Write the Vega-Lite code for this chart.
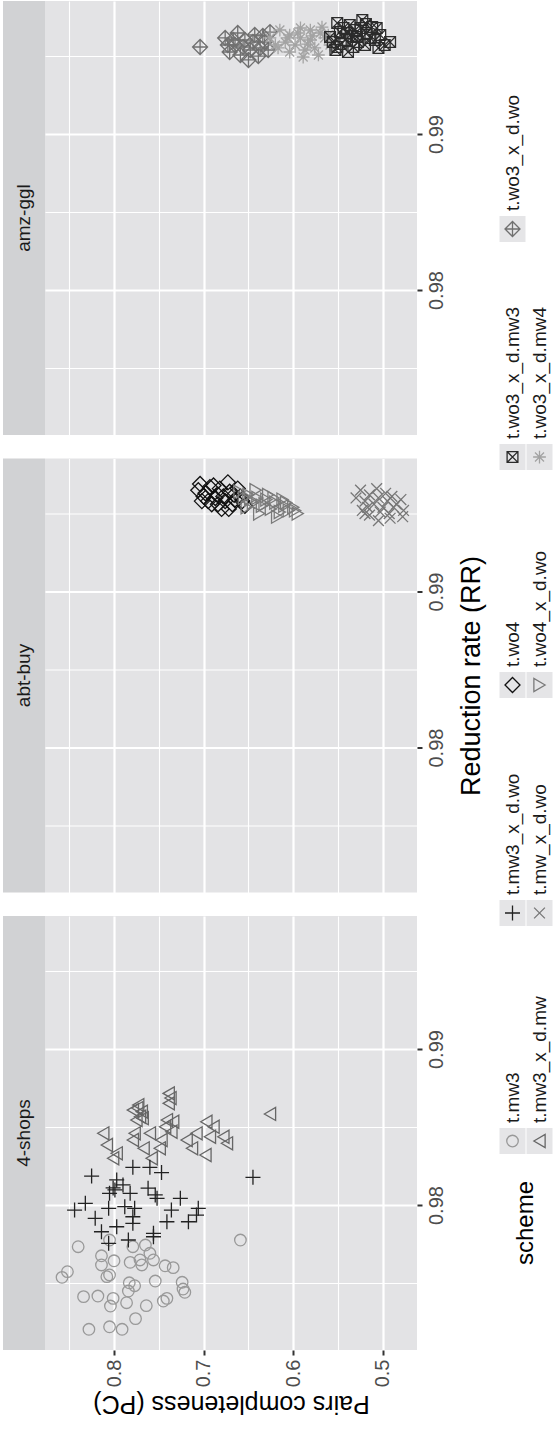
{
  "$schema": "https://vega.github.io/schema/vega-lite/v6.json",
  "background": "white",
  "padding": {"left": 3, "top": 1, "right": 0, "bottom": 20},
  "config": {
    "font": "Liberation Sans",
    "view": {"fill": "#e3e3e5", "stroke": null}
  },
  "datasets": {
    "panels": [{"panel": "amz-ggl"}, {"panel": "abt-buy"}, {"panel": "4-shops"}],
    "legend": [
      {"scheme": "t.mw3", "lrow": 1, "slot": 1},
      {"scheme": "t.mw3_x_d.mw", "lrow": 2, "slot": 1},
      {"scheme": "t.mw3_x_d.wo", "lrow": 1, "slot": 2},
      {"scheme": "t.mw_x_d.wo", "lrow": 2, "slot": 2},
      {"scheme": "t.wo4", "lrow": 1, "slot": 3},
      {"scheme": "t.wo4_x_d.wo", "lrow": 2, "slot": 3},
      {"scheme": "t.wo3_x_d.mw3", "lrow": 1, "slot": 4},
      {"scheme": "t.wo3_x_d.mw4", "lrow": 2, "slot": 4},
      {"scheme": "t.wo3_x_d.wo", "lrow": 1, "slot": 5}
    ],
    "points": [
      {"panel":"4-shops","scheme":"t.mw3","pc":0.659,"rr":0.97776},
      {"panel":"4-shops","scheme":"t.mw3","pc":0.840,"rr":0.97733},
      {"panel":"4-shops","scheme":"t.mw3","pc":0.805,"rr":0.97776},
      {"panel":"4-shops","scheme":"t.mw3","pc":0.814,"rr":0.97675},
      {"panel":"4-shops","scheme":"t.mw3","pc":0.779,"rr":0.97733},
      {"panel":"4-shops","scheme":"t.mw3","pc":0.765,"rr":0.97744},
      {"panel":"4-shops","scheme":"t.mw3","pc":0.760,"rr":0.97691},
      {"panel":"4-shops","scheme":"t.mw3","pc":0.814,"rr":0.97616},
      {"panel":"4-shops","scheme":"t.mw3","pc":0.800,"rr":0.97643},
      {"panel":"4-shops","scheme":"t.mw3","pc":0.782,"rr":0.97633},
      {"panel":"4-shops","scheme":"t.mw3","pc":0.771,"rr":0.97648},
      {"panel":"4-shops","scheme":"t.mw3","pc":0.769,"rr":0.97616},
      {"panel":"4-shops","scheme":"t.mw3","pc":0.756,"rr":0.97648},
      {"panel":"4-shops","scheme":"t.mw3","pc":0.743,"rr":0.97611},
      {"panel":"4-shops","scheme":"t.mw3","pc":0.734,"rr":0.97599},
      {"panel":"4-shops","scheme":"t.mw3","pc":0.852,"rr":0.97573},
      {"panel":"4-shops","scheme":"t.mw3","pc":0.858,"rr":0.97537},
      {"panel":"4-shops","scheme":"t.mw3","pc":0.808,"rr":0.97541},
      {"panel":"4-shops","scheme":"t.mw3","pc":0.805,"rr":0.97552},
      {"panel":"4-shops","scheme":"t.mw3","pc":0.754,"rr":0.97513},
      {"panel":"4-shops","scheme":"t.mw3","pc":0.783,"rr":0.97502},
      {"panel":"4-shops","scheme":"t.mw3","pc":0.777,"rr":0.97483},
      {"panel":"4-shops","scheme":"t.mw3","pc":0.724,"rr":0.97505},
      {"panel":"4-shops","scheme":"t.mw3","pc":0.723,"rr":0.97462},
      {"panel":"4-shops","scheme":"t.mw3","pc":0.721,"rr":0.97441},
      {"panel":"4-shops","scheme":"t.mw3","pc":0.784,"rr":0.97449},
      {"panel":"4-shops","scheme":"t.mw3","pc":0.834,"rr":0.97413},
      {"panel":"4-shops","scheme":"t.mw3","pc":0.818,"rr":0.97417},
      {"panel":"4-shops","scheme":"t.mw3","pc":0.801,"rr":0.97402},
      {"panel":"4-shops","scheme":"t.mw3","pc":0.804,"rr":0.97353},
      {"panel":"4-shops","scheme":"t.mw3","pc":0.786,"rr":0.97374},
      {"panel":"4-shops","scheme":"t.mw3","pc":0.764,"rr":0.97355},
      {"panel":"4-shops","scheme":"t.mw3","pc":0.745,"rr":0.97385},
      {"panel":"4-shops","scheme":"t.mw3","pc":0.741,"rr":0.97402},
      {"panel":"4-shops","scheme":"t.mw3","pc":0.776,"rr":0.97272},
      {"panel":"4-shops","scheme":"t.mw3","pc":0.828,"rr":0.97204},
      {"panel":"4-shops","scheme":"t.mw3","pc":0.805,"rr":0.97220},
      {"panel":"4-shops","scheme":"t.mw3","pc":0.791,"rr":0.97204},
      {"panel":"4-shops","scheme":"t.mw3_x_d.mw","pc":0.739,"rr":0.98716},
      {"panel":"4-shops","scheme":"t.mw3_x_d.mw","pc":0.739,"rr":0.98652},
      {"panel":"4-shops","scheme":"t.mw3_x_d.mw","pc":0.773,"rr":0.98641},
      {"panel":"4-shops","scheme":"t.mw3_x_d.mw","pc":0.779,"rr":0.98609},
      {"panel":"4-shops","scheme":"t.mw3_x_d.mw","pc":0.769,"rr":0.98599},
      {"panel":"4-shops","scheme":"t.mw3_x_d.mw","pc":0.771,"rr":0.98566},
      {"panel":"4-shops","scheme":"t.mw3_x_d.mw","pc":0.775,"rr":0.98545},
      {"panel":"4-shops","scheme":"t.mw3_x_d.mw","pc":0.626,"rr":0.98584},
      {"panel":"4-shops","scheme":"t.mw3_x_d.mw","pc":0.741,"rr":0.98545},
      {"panel":"4-shops","scheme":"t.mw3_x_d.mw","pc":0.734,"rr":0.98534},
      {"panel":"4-shops","scheme":"t.mw3_x_d.mw","pc":0.697,"rr":0.98534},
      {"panel":"4-shops","scheme":"t.mw3_x_d.mw","pc":0.743,"rr":0.98502},
      {"panel":"4-shops","scheme":"t.mw3_x_d.mw","pc":0.689,"rr":0.98502},
      {"panel":"4-shops","scheme":"t.mw3_x_d.mw","pc":0.812,"rr":0.98460},
      {"panel":"4-shops","scheme":"t.mw3_x_d.mw","pc":0.777,"rr":0.98460},
      {"panel":"4-shops","scheme":"t.mw3_x_d.mw","pc":0.760,"rr":0.98460},
      {"panel":"4-shops","scheme":"t.mw3_x_d.mw","pc":0.736,"rr":0.98470},
      {"panel":"4-shops","scheme":"t.mw3_x_d.mw","pc":0.708,"rr":0.98460},
      {"panel":"4-shops","scheme":"t.mw3_x_d.mw","pc":0.693,"rr":0.98438},
      {"panel":"4-shops","scheme":"t.mw3_x_d.mw","pc":0.678,"rr":0.98438},
      {"panel":"4-shops","scheme":"t.mw3_x_d.mw","pc":0.779,"rr":0.98417},
      {"panel":"4-shops","scheme":"t.mw3_x_d.mw","pc":0.747,"rr":0.98417},
      {"panel":"4-shops","scheme":"t.mw3_x_d.mw","pc":0.719,"rr":0.98417},
      {"panel":"4-shops","scheme":"t.mw3_x_d.mw","pc":0.674,"rr":0.98396},
      {"panel":"4-shops","scheme":"t.mw3_x_d.mw","pc":0.808,"rr":0.98385},
      {"panel":"4-shops","scheme":"t.mw3_x_d.mw","pc":0.767,"rr":0.98364},
      {"panel":"4-shops","scheme":"t.mw3_x_d.mw","pc":0.749,"rr":0.98364},
      {"panel":"4-shops","scheme":"t.mw3_x_d.mw","pc":0.713,"rr":0.98364},
      {"panel":"4-shops","scheme":"t.mw3_x_d.mw","pc":0.797,"rr":0.98332},
      {"panel":"4-shops","scheme":"t.mw3_x_d.mw","pc":0.801,"rr":0.98300},
      {"panel":"4-shops","scheme":"t.mw3_x_d.mw","pc":0.758,"rr":0.98300},
      {"panel":"4-shops","scheme":"t.mw3_x_d.mw","pc":0.698,"rr":0.98321},
      {"panel":"4-shops","scheme":"t.mw3_x_d.mw","pc":0.774,"rr":0.98622},
      {"panel":"4-shops","scheme":"t.mw3_x_d.mw","pc":0.768,"rr":0.98557},
      {"panel":"4-shops","scheme":"t.mw3_x_d.mw","pc":0.737,"rr":0.98686},
      {"panel":"4-shops","scheme":"t.mw3_x_d.wo","pc":0.825,"rr":0.98186},
      {"panel":"4-shops","scheme":"t.mw3_x_d.wo","pc":0.779,"rr":0.98242},
      {"panel":"4-shops","scheme":"t.mw3_x_d.wo","pc":0.760,"rr":0.98242},
      {"panel":"4-shops","scheme":"t.mw3_x_d.wo","pc":0.747,"rr":0.98208},
      {"panel":"4-shops","scheme":"t.mw3_x_d.wo","pc":0.645,"rr":0.98178},
      {"panel":"4-shops","scheme":"t.mw3_x_d.wo","pc":0.797,"rr":0.98161},
      {"panel":"4-shops","scheme":"t.mw3_x_d.wo","pc":0.790,"rr":0.98129},
      {"panel":"4-shops","scheme":"t.mw3_x_d.wo","pc":0.799,"rr":0.98097},
      {"panel":"4-shops","scheme":"t.mw3_x_d.wo","pc":0.805,"rr":0.98075},
      {"panel":"4-shops","scheme":"t.mw3_x_d.wo","pc":0.782,"rr":0.98075},
      {"panel":"4-shops","scheme":"t.mw3_x_d.wo","pc":0.762,"rr":0.98108},
      {"panel":"4-shops","scheme":"t.mw3_x_d.wo","pc":0.754,"rr":0.98065},
      {"panel":"4-shops","scheme":"t.mw3_x_d.wo","pc":0.752,"rr":0.98043},
      {"panel":"4-shops","scheme":"t.mw3_x_d.wo","pc":0.726,"rr":0.98043},
      {"panel":"4-shops","scheme":"t.mw3_x_d.wo","pc":0.832,"rr":0.98011},
      {"panel":"4-shops","scheme":"t.mw3_x_d.wo","pc":0.844,"rr":0.97968},
      {"panel":"4-shops","scheme":"t.mw3_x_d.wo","pc":0.806,"rr":0.97979},
      {"panel":"4-shops","scheme":"t.mw3_x_d.wo","pc":0.777,"rr":0.97979},
      {"panel":"4-shops","scheme":"t.mw3_x_d.wo","pc":0.736,"rr":0.97968},
      {"panel":"4-shops","scheme":"t.mw3_x_d.wo","pc":0.706,"rr":0.97979},
      {"panel":"4-shops","scheme":"t.mw3_x_d.wo","pc":0.821,"rr":0.97915},
      {"panel":"4-shops","scheme":"t.mw3_x_d.wo","pc":0.779,"rr":0.97925},
      {"panel":"4-shops","scheme":"t.mw3_x_d.wo","pc":0.741,"rr":0.97893},
      {"panel":"4-shops","scheme":"t.mw3_x_d.wo","pc":0.717,"rr":0.97893},
      {"panel":"4-shops","scheme":"t.mw3_x_d.wo","pc":0.708,"rr":0.97936},
      {"panel":"4-shops","scheme":"t.mw3_x_d.wo","pc":0.797,"rr":0.97861},
      {"panel":"4-shops","scheme":"t.mw3_x_d.wo","pc":0.779,"rr":0.97883},
      {"panel":"4-shops","scheme":"t.mw3_x_d.wo","pc":0.814,"rr":0.97829},
      {"panel":"4-shops","scheme":"t.mw3_x_d.wo","pc":0.756,"rr":0.97819},
      {"panel":"4-shops","scheme":"t.mw3_x_d.wo","pc":0.806,"rr":0.97755},
      {"panel":"4-shops","scheme":"t.mw3_x_d.wo","pc":0.784,"rr":0.97776},
      {"panel":"4-shops","scheme":"t.mw3_x_d.wo","pc":0.756,"rr":0.97797},
      {"panel":"4-shops","scheme":"t.mw3_x_d.wo","pc":0.801,"rr":0.98110},
      {"panel":"4-shops","scheme":"t.mw3_x_d.wo","pc":0.788,"rr":0.97990},
      {"panel":"abt-buy","scheme":"t.wo4","pc":0.704,"rr":0.99690},
      {"panel":"abt-buy","scheme":"t.wo4","pc":0.693,"rr":0.99670},
      {"panel":"abt-buy","scheme":"t.wo4","pc":0.682,"rr":0.99660},
      {"panel":"abt-buy","scheme":"t.wo4","pc":0.671,"rr":0.99640},
      {"panel":"abt-buy","scheme":"t.wo4","pc":0.659,"rr":0.99610},
      {"panel":"abt-buy","scheme":"t.wo4","pc":0.698,"rr":0.99630},
      {"panel":"abt-buy","scheme":"t.wo4","pc":0.687,"rr":0.99600},
      {"panel":"abt-buy","scheme":"t.wo4","pc":0.676,"rr":0.99580},
      {"panel":"abt-buy","scheme":"t.wo4","pc":0.665,"rr":0.99590},
      {"panel":"abt-buy","scheme":"t.wo4","pc":0.654,"rr":0.99550},
      {"panel":"abt-buy","scheme":"t.wo4","pc":0.691,"rr":0.99560},
      {"panel":"abt-buy","scheme":"t.wo4","pc":0.680,"rr":0.99530},
      {"panel":"abt-buy","scheme":"t.wo4","pc":0.706,"rr":0.99650},
      {"panel":"abt-buy","scheme":"t.wo4","pc":0.673,"rr":0.99700},
      {"panel":"abt-buy","scheme":"t.wo4","pc":0.662,"rr":0.99660},
      {"panel":"abt-buy","scheme":"t.wo4","pc":0.684,"rr":0.99620},
      {"panel":"abt-buy","scheme":"t.wo4","pc":0.695,"rr":0.99580},
      {"panel":"abt-buy","scheme":"t.wo4","pc":0.668,"rr":0.99560},
      {"panel":"abt-buy","scheme":"t.wo4","pc":0.700,"rr":0.99610},
      {"panel":"abt-buy","scheme":"t.wo4","pc":0.689,"rr":0.99680},
      {"panel":"abt-buy","scheme":"t.wo4","pc":0.678,"rr":0.99610},
      {"panel":"abt-buy","scheme":"t.wo4","pc":0.666,"rr":0.99620},
      {"panel":"abt-buy","scheme":"t.wo4","pc":0.657,"rr":0.99580},
      {"panel":"abt-buy","scheme":"t.wo4","pc":0.684,"rr":0.99560},
      {"panel":"abt-buy","scheme":"t.wo4","pc":0.702,"rr":0.99580},
      {"panel":"abt-buy","scheme":"t.wo4","pc":0.672,"rr":0.99530},
      {"panel":"abt-buy","scheme":"t.wo4_x_d.wo","pc":0.660,"rr":0.99640},
      {"panel":"abt-buy","scheme":"t.wo4_x_d.wo","pc":0.650,"rr":0.99620},
      {"panel":"abt-buy","scheme":"t.wo4_x_d.wo","pc":0.640,"rr":0.99600},
      {"panel":"abt-buy","scheme":"t.wo4_x_d.wo","pc":0.630,"rr":0.99590},
      {"panel":"abt-buy","scheme":"t.wo4_x_d.wo","pc":0.620,"rr":0.99570},
      {"panel":"abt-buy","scheme":"t.wo4_x_d.wo","pc":0.610,"rr":0.99550},
      {"panel":"abt-buy","scheme":"t.wo4_x_d.wo","pc":0.600,"rr":0.99540},
      {"panel":"abt-buy","scheme":"t.wo4_x_d.wo","pc":0.645,"rr":0.99570},
      {"panel":"abt-buy","scheme":"t.wo4_x_d.wo","pc":0.635,"rr":0.99550},
      {"panel":"abt-buy","scheme":"t.wo4_x_d.wo","pc":0.625,"rr":0.99530},
      {"panel":"abt-buy","scheme":"t.wo4_x_d.wo","pc":0.615,"rr":0.99510},
      {"panel":"abt-buy","scheme":"t.wo4_x_d.wo","pc":0.655,"rr":0.99600},
      {"panel":"abt-buy","scheme":"t.wo4_x_d.wo","pc":0.605,"rr":0.99520},
      {"panel":"abt-buy","scheme":"t.wo4_x_d.wo","pc":0.595,"rr":0.99500},
      {"panel":"abt-buy","scheme":"t.wo4_x_d.wo","pc":0.642,"rr":0.99650},
      {"panel":"abt-buy","scheme":"t.wo4_x_d.wo","pc":0.628,"rr":0.99620},
      {"panel":"abt-buy","scheme":"t.wo4_x_d.wo","pc":0.612,"rr":0.99590},
      {"panel":"abt-buy","scheme":"t.wo4_x_d.wo","pc":0.618,"rr":0.99480},
      {"panel":"abt-buy","scheme":"t.wo4_x_d.wo","pc":0.648,"rr":0.99590},
      {"panel":"abt-buy","scheme":"t.wo4_x_d.wo","pc":0.632,"rr":0.99560},
      {"panel":"abt-buy","scheme":"t.wo4_x_d.wo","pc":0.622,"rr":0.99600},
      {"panel":"abt-buy","scheme":"t.wo4_x_d.wo","pc":0.608,"rr":0.99570},
      {"panel":"abt-buy","scheme":"t.wo4_x_d.wo","pc":0.598,"rr":0.99520},
      {"panel":"abt-buy","scheme":"t.wo4_x_d.wo","pc":0.638,"rr":0.99500},
      {"panel":"abt-buy","scheme":"t.wo4_x_d.wo","pc":0.652,"rr":0.99540},
      {"panel":"abt-buy","scheme":"t.mw_x_d.wo","pc":0.525,"rr":0.99650},
      {"panel":"abt-buy","scheme":"t.mw_x_d.wo","pc":0.515,"rr":0.99620},
      {"panel":"abt-buy","scheme":"t.mw_x_d.wo","pc":0.505,"rr":0.99600},
      {"panel":"abt-buy","scheme":"t.mw_x_d.wo","pc":0.495,"rr":0.99580},
      {"panel":"abt-buy","scheme":"t.mw_x_d.wo","pc":0.485,"rr":0.99560},
      {"panel":"abt-buy","scheme":"t.mw_x_d.wo","pc":0.510,"rr":0.99560},
      {"panel":"abt-buy","scheme":"t.mw_x_d.wo","pc":0.500,"rr":0.99540},
      {"panel":"abt-buy","scheme":"t.mw_x_d.wo","pc":0.520,"rr":0.99580},
      {"panel":"abt-buy","scheme":"t.mw_x_d.wo","pc":0.490,"rr":0.99610},
      {"panel":"abt-buy","scheme":"t.mw_x_d.wo","pc":0.480,"rr":0.99590},
      {"panel":"abt-buy","scheme":"t.mw_x_d.wo","pc":0.530,"rr":0.99600},
      {"panel":"abt-buy","scheme":"t.mw_x_d.wo","pc":0.507,"rr":0.99660},
      {"panel":"abt-buy","scheme":"t.mw_x_d.wo","pc":0.497,"rr":0.99630},
      {"panel":"abt-buy","scheme":"t.mw_x_d.wo","pc":0.517,"rr":0.99540},
      {"panel":"abt-buy","scheme":"t.mw_x_d.wo","pc":0.503,"rr":0.99510},
      {"panel":"abt-buy","scheme":"t.mw_x_d.wo","pc":0.477,"rr":0.99520},
      {"panel":"abt-buy","scheme":"t.mw_x_d.wo","pc":0.523,"rr":0.99520},
      {"panel":"abt-buy","scheme":"t.mw_x_d.wo","pc":0.493,"rr":0.99500},
      {"panel":"abt-buy","scheme":"t.mw_x_d.wo","pc":0.478,"rr":0.99480},
      {"panel":"abt-buy","scheme":"t.mw_x_d.wo","pc":0.492,"rr":0.99470},
      {"panel":"abt-buy","scheme":"t.mw_x_d.wo","pc":0.515,"rr":0.99490},
      {"panel":"abt-buy","scheme":"t.mw_x_d.wo","pc":0.505,"rr":0.99455},
      {"panel":"abt-buy","scheme":"t.mw_x_d.wo","pc":0.488,"rr":0.99540},
      {"panel":"abt-buy","scheme":"t.mw_x_d.wo","pc":0.520,"rr":0.99500},
      {"panel":"amz-ggl","scheme":"t.wo3_x_d.wo","pc":0.704,"rr":0.99558},
      {"panel":"amz-ggl","scheme":"t.wo3_x_d.wo","pc":0.676,"rr":0.99616},
      {"panel":"amz-ggl","scheme":"t.wo3_x_d.wo","pc":0.665,"rr":0.99571},
      {"panel":"amz-ggl","scheme":"t.wo3_x_d.wo","pc":0.654,"rr":0.99603},
      {"panel":"amz-ggl","scheme":"t.wo3_x_d.wo","pc":0.643,"rr":0.99635},
      {"panel":"amz-ggl","scheme":"t.wo3_x_d.wo","pc":0.632,"rr":0.99590},
      {"panel":"amz-ggl","scheme":"t.wo3_x_d.wo","pc":0.671,"rr":0.99526},
      {"panel":"amz-ggl","scheme":"t.wo3_x_d.wo","pc":0.659,"rr":0.99507},
      {"panel":"amz-ggl","scheme":"t.wo3_x_d.wo","pc":0.648,"rr":0.99539},
      {"panel":"amz-ggl","scheme":"t.wo3_x_d.wo","pc":0.637,"rr":0.99552},
      {"panel":"amz-ggl","scheme":"t.wo3_x_d.wo","pc":0.626,"rr":0.99654},
      {"panel":"amz-ggl","scheme":"t.wo3_x_d.wo","pc":0.662,"rr":0.99648},
      {"panel":"amz-ggl","scheme":"t.wo3_x_d.wo","pc":0.650,"rr":0.99475},
      {"panel":"amz-ggl","scheme":"t.wo3_x_d.wo","pc":0.673,"rr":0.99571},
      {"panel":"amz-ggl","scheme":"t.wo3_x_d.wo","pc":0.639,"rr":0.99500},
      {"panel":"amz-ggl","scheme":"t.wo3_x_d.wo","pc":0.628,"rr":0.99539},
      {"panel":"amz-ggl","scheme":"t.wo3_x_d.wo","pc":0.656,"rr":0.99558},
      {"panel":"amz-ggl","scheme":"t.wo3_x_d.wo","pc":0.645,"rr":0.99590},
      {"panel":"amz-ggl","scheme":"t.wo3_x_d.wo","pc":0.667,"rr":0.99603},
      {"panel":"amz-ggl","scheme":"t.wo3_x_d.wo","pc":0.634,"rr":0.99629},
      {"panel":"amz-ggl","scheme":"t.wo3_x_d.mw4","pc":0.615,"rr":0.99667},
      {"panel":"amz-ggl","scheme":"t.wo3_x_d.mw4","pc":0.604,"rr":0.99635},
      {"panel":"amz-ggl","scheme":"t.wo3_x_d.mw4","pc":0.592,"rr":0.99680},
      {"panel":"amz-ggl","scheme":"t.wo3_x_d.mw4","pc":0.581,"rr":0.99603},
      {"panel":"amz-ggl","scheme":"t.wo3_x_d.mw4","pc":0.570,"rr":0.99648},
      {"panel":"amz-ggl","scheme":"t.wo3_x_d.mw4","pc":0.598,"rr":0.99571},
      {"panel":"amz-ggl","scheme":"t.wo3_x_d.mw4","pc":0.587,"rr":0.99539},
      {"panel":"amz-ggl","scheme":"t.wo3_x_d.mw4","pc":0.609,"rr":0.99590},
      {"panel":"amz-ggl","scheme":"t.wo3_x_d.mw4","pc":0.576,"rr":0.99552},
      {"panel":"amz-ggl","scheme":"t.wo3_x_d.mw4","pc":0.565,"rr":0.99616},
      {"panel":"amz-ggl","scheme":"t.wo3_x_d.mw4","pc":0.626,"rr":0.99616},
      {"panel":"amz-ggl","scheme":"t.wo3_x_d.mw4","pc":0.592,"rr":0.99616},
      {"panel":"amz-ggl","scheme":"t.wo3_x_d.mw4","pc":0.581,"rr":0.99667},
      {"panel":"amz-ggl","scheme":"t.wo3_x_d.mw4","pc":0.559,"rr":0.99571},
      {"panel":"amz-ggl","scheme":"t.wo3_x_d.mw4","pc":0.604,"rr":0.99526},
      {"panel":"amz-ggl","scheme":"t.wo3_x_d.mw4","pc":0.572,"rr":0.99507},
      {"panel":"amz-ggl","scheme":"t.wo3_x_d.mw4","pc":0.617,"rr":0.99552},
      {"panel":"amz-ggl","scheme":"t.wo3_x_d.mw4","pc":0.595,"rr":0.99648},
      {"panel":"amz-ggl","scheme":"t.wo3_x_d.mw4","pc":0.584,"rr":0.99577},
      {"panel":"amz-ggl","scheme":"t.wo3_x_d.mw4","pc":0.568,"rr":0.99686},
      {"panel":"amz-ggl","scheme":"t.wo3_x_d.mw4","pc":0.606,"rr":0.99616},
      {"panel":"amz-ggl","scheme":"t.wo3_x_d.mw4","pc":0.579,"rr":0.99629},
      {"panel":"amz-ggl","scheme":"t.wo3_x_d.mw4","pc":0.620,"rr":0.99571},
      {"panel":"amz-ggl","scheme":"t.wo3_x_d.mw4","pc":0.589,"rr":0.99494},
      {"panel":"amz-ggl","scheme":"t.wo3_x_d.mw4","pc":0.561,"rr":0.99635},
      {"panel":"amz-ggl","scheme":"t.wo3_x_d.mw3","pc":0.492,"rr":0.99590},
      {"panel":"amz-ggl","scheme":"t.wo3_x_d.mw3","pc":0.507,"rr":0.99680},
      {"panel":"amz-ggl","scheme":"t.wo3_x_d.mw3","pc":0.523,"rr":0.99731},
      {"panel":"amz-ggl","scheme":"t.wo3_x_d.mw3","pc":0.551,"rr":0.99712},
      {"panel":"amz-ggl","scheme":"t.wo3_x_d.mw3","pc":0.540,"rr":0.99648},
      {"panel":"amz-ggl","scheme":"t.wo3_x_d.mw3","pc":0.529,"rr":0.99622},
      {"panel":"amz-ggl","scheme":"t.wo3_x_d.mw3","pc":0.518,"rr":0.99648},
      {"panel":"amz-ggl","scheme":"t.wo3_x_d.mw3","pc":0.551,"rr":0.99558},
      {"panel":"amz-ggl","scheme":"t.wo3_x_d.mw3","pc":0.533,"rr":0.99558},
      {"panel":"amz-ggl","scheme":"t.wo3_x_d.mw3","pc":0.559,"rr":0.99622},
      {"panel":"amz-ggl","scheme":"t.wo3_x_d.mw3","pc":0.525,"rr":0.99680},
      {"panel":"amz-ggl","scheme":"t.wo3_x_d.mw3","pc":0.548,"rr":0.99654},
      {"panel":"amz-ggl","scheme":"t.wo3_x_d.mw3","pc":0.514,"rr":0.99616},
      {"panel":"amz-ggl","scheme":"t.wo3_x_d.mw3","pc":0.537,"rr":0.99699},
      {"panel":"amz-ggl","scheme":"t.wo3_x_d.mw3","pc":0.542,"rr":0.99603},
      {"panel":"amz-ggl","scheme":"t.wo3_x_d.mw3","pc":0.520,"rr":0.99571},
      {"panel":"amz-ggl","scheme":"t.wo3_x_d.mw3","pc":0.509,"rr":0.99603},
      {"panel":"amz-ggl","scheme":"t.wo3_x_d.mw3","pc":0.531,"rr":0.99667},
      {"panel":"amz-ggl","scheme":"t.wo3_x_d.mw3","pc":0.544,"rr":0.99680},
      {"panel":"amz-ggl","scheme":"t.wo3_x_d.mw3","pc":0.503,"rr":0.99635},
      {"panel":"amz-ggl","scheme":"t.wo3_x_d.mw3","pc":0.556,"rr":0.99590},
      {"panel":"amz-ggl","scheme":"t.wo3_x_d.mw3","pc":0.512,"rr":0.99686},
      {"panel":"amz-ggl","scheme":"t.wo3_x_d.mw3","pc":0.498,"rr":0.99571},
      {"panel":"amz-ggl","scheme":"t.wo3_x_d.mw3","pc":0.539,"rr":0.99526},
      {"panel":"amz-ggl","scheme":"t.wo3_x_d.mw3","pc":0.553,"rr":0.99539},
      {"panel":"amz-ggl","scheme":"t.wo3_x_d.mw3","pc":0.528,"rr":0.99590},
      {"panel":"amz-ggl","scheme":"t.wo3_x_d.mw3","pc":0.519,"rr":0.99706},
      {"panel":"amz-ggl","scheme":"t.wo3_x_d.mw3","pc":0.534,"rr":0.99629},
      {"panel":"amz-ggl","scheme":"t.wo3_x_d.mw3","pc":0.547,"rr":0.99577},
      {"panel":"amz-ggl","scheme":"t.wo3_x_d.mw3","pc":0.505,"rr":0.99552}
    ]
  },
  "hconcat": [
    {
      "vconcat": [
        {
          "hconcat": [
            {
              "width": 42, "height": 434,
              "view": {"fill": "#d1d2d4", "stroke": null},
              "data": {"name": "panels"},
              "transform": [{"filter": "datum.panel === 'amz-ggl'"}],
              "mark": {"type": "text", "angle": 270, "fontSize": 19, "color": "#1a1a1a", "align": "center", "baseline": "middle"},
              "encoding": {"text": {"field": "panel"}}
            },
            {
              "width": 372, "height": 434,
              "data": {"name": "points"},
              "transform": [{"filter": "datum.panel === 'amz-ggl'"}],
              "mark": {"type": "point", "filled": false, "opacity": 1, "strokeWidth": 1.3, "size": 225},
              "encoding": {
                "x": {"field": "pc", "type": "quantitative",
                  "scale": {"domain": [0.462, 0.877], "reverse": true, "nice": false, "zero": false},
                  "axis": {"orient": "bottom", "values": [0.5,0.55,0.6,0.65,0.7,0.75,0.8,0.85], "labels": false, "ticks": false, "domain": false, "title": null,
                    "grid": true, "gridColor": "white", "gridOpacity": 1,
                    "gridWidth": {"condition": {"test": "abs(datum.value*10 - round(datum.value*10)) < 0.001", "value": 2.2}, "value": 1.1}}},
                "y": {"field": "rr", "type": "quantitative",
                  "scale": {"domain": [0.97071, 0.99853], "nice": false, "zero": false},
                  "axis": {"orient": "right", "values": [0.975,0.98,0.985,0.99,0.995],
                    "labelExpr": "abs(datum.value*100 - round(datum.value*100)) < 0.001 ? format(datum.value, '.2f') : ''",
                    "grid": true, "gridColor": "white", "gridOpacity": 1,
                    "gridWidth": {"condition": {"test": "abs(datum.value*100 - round(datum.value*100)) < 0.001", "value": 2.2}, "value": 1.1},
                    "domain": false, "tickColor": "#333333", "tickWidth": 2, "tickSize": 5,
                    "tickOpacity": {"condition": {"test": "abs(datum.value*100 - round(datum.value*100)) < 0.001", "value": 1}, "value": 0},
                    "labelAngle": 270, "labelAlign": "center", "labelBaseline": "top", "labelFontSize": 20, "labelColor": "#4d4d4d", "labelPadding": 4,
                    "labelOverlap": false, "labelFlush": false, "title": null}},
                "shape": {"field": "scheme", "type": "nominal", "legend": null,
                  "scale": {"domain": ["t.mw3","t.mw3_x_d.mw","t.mw3_x_d.wo","t.mw_x_d.wo","t.wo4","t.wo4_x_d.wo","t.wo3_x_d.mw3","t.wo3_x_d.mw4","t.wo3_x_d.wo"],
                    "range": ["M0.77,0A0.77,0.77,0,1,1,-0.77,0A0.77,0.77,0,1,1,0.77,0Z","M-0.75,0L0.75,-0.87L0.75,0.87Z","M-1,0L1,0M0,-1L0,1","M-0.72,-0.72L0.72,0.72M-0.72,0.72L0.72,-0.72","M-1,0L0,-1L1,0L0,1Z","M0.75,0L-0.75,-0.87L-0.75,0.87Z","M-0.72,-0.72L0.72,-0.72L0.72,0.72L-0.72,0.72ZM-0.72,-0.72L0.72,0.72M-0.72,0.72L0.72,-0.72","M-0.85,0L0.85,0M0,-0.85L0,0.85M-0.6,-0.6L0.6,0.6M-0.6,0.6L0.6,-0.6","M-1,0L0,-1L1,0L0,1ZM-1,0L1,0M0,-1L0,1"]}},
                "color": {"field": "scheme", "type": "nominal", "legend": null,
                  "scale": {"domain": ["t.mw3","t.mw3_x_d.mw","t.mw3_x_d.wo","t.mw_x_d.wo","t.wo4","t.wo4_x_d.wo","t.wo3_x_d.mw3","t.wo3_x_d.mw4","t.wo3_x_d.wo"],
                    "range": ["#999999","#666666","#222222","#777777","#111111","#7a7a7a","#2b2b2b","#a3a3a3","#707070"]}}
              }
            }
          ],
          "spacing": 0
        },
        {
          "hconcat": [
            {
              "width": 42, "height": 434,
              "view": {"fill": "#d1d2d4", "stroke": null},
              "data": {"name": "panels"},
              "transform": [{"filter": "datum.panel === 'abt-buy'"}],
              "mark": {"type": "text", "angle": 270, "fontSize": 19, "color": "#1a1a1a", "align": "center", "baseline": "middle"},
              "encoding": {"text": {"field": "panel"}}
            },
            {
              "width": 372, "height": 434,
              "data": {"name": "points"},
              "transform": [{"filter": "datum.panel === 'abt-buy'"}],
              "mark": {"type": "point", "filled": false, "opacity": 1, "strokeWidth": 1.3, "size": 225},
              "encoding": {
                "x": {"field": "pc", "type": "quantitative",
                  "scale": {"domain": [0.462, 0.877], "reverse": true, "nice": false, "zero": false},
                  "axis": {"orient": "bottom", "values": [0.5,0.55,0.6,0.65,0.7,0.75,0.8,0.85], "labels": false, "ticks": false, "domain": false, "title": null,
                    "grid": true, "gridColor": "white", "gridOpacity": 1,
                    "gridWidth": {"condition": {"test": "abs(datum.value*10 - round(datum.value*10)) < 0.001", "value": 2.2}, "value": 1.1}}},
                "y": {"field": "rr", "type": "quantitative",
                  "scale": {"domain": [0.97071, 0.99853], "nice": false, "zero": false},
                  "axis": {"orient": "right", "values": [0.975,0.98,0.985,0.99,0.995],
                    "labelExpr": "abs(datum.value*100 - round(datum.value*100)) < 0.001 ? format(datum.value, '.2f') : ''",
                    "grid": true, "gridColor": "white", "gridOpacity": 1,
                    "gridWidth": {"condition": {"test": "abs(datum.value*100 - round(datum.value*100)) < 0.001", "value": 2.2}, "value": 1.1},
                    "domain": false, "tickColor": "#333333", "tickWidth": 2, "tickSize": 5,
                    "tickOpacity": {"condition": {"test": "abs(datum.value*100 - round(datum.value*100)) < 0.001", "value": 1}, "value": 0},
                    "labelAngle": 270, "labelAlign": "center", "labelBaseline": "top", "labelFontSize": 20, "labelColor": "#4d4d4d", "labelPadding": 4,
                    "labelOverlap": false, "labelFlush": false,
                    "title": "Reduction rate (RR)", "titleAngle": 270, "titleBaseline": "top", "titleFontSize": 27, "titleFontWeight": "normal", "titleColor": "#000000", "titlePadding": 12}},
                "shape": {"field": "scheme", "type": "nominal", "legend": null,
                  "scale": {"domain": ["t.mw3","t.mw3_x_d.mw","t.mw3_x_d.wo","t.mw_x_d.wo","t.wo4","t.wo4_x_d.wo","t.wo3_x_d.mw3","t.wo3_x_d.mw4","t.wo3_x_d.wo"],
                    "range": ["M0.77,0A0.77,0.77,0,1,1,-0.77,0A0.77,0.77,0,1,1,0.77,0Z","M-0.75,0L0.75,-0.87L0.75,0.87Z","M-1,0L1,0M0,-1L0,1","M-0.72,-0.72L0.72,0.72M-0.72,0.72L0.72,-0.72","M-1,0L0,-1L1,0L0,1Z","M0.75,0L-0.75,-0.87L-0.75,0.87Z","M-0.72,-0.72L0.72,-0.72L0.72,0.72L-0.72,0.72ZM-0.72,-0.72L0.72,0.72M-0.72,0.72L0.72,-0.72","M-0.85,0L0.85,0M0,-0.85L0,0.85M-0.6,-0.6L0.6,0.6M-0.6,0.6L0.6,-0.6","M-1,0L0,-1L1,0L0,1ZM-1,0L1,0M0,-1L0,1"]}},
                "color": {"field": "scheme", "type": "nominal", "legend": null,
                  "scale": {"domain": ["t.mw3","t.mw3_x_d.mw","t.mw3_x_d.wo","t.mw_x_d.wo","t.wo4","t.wo4_x_d.wo","t.wo3_x_d.mw3","t.wo3_x_d.mw4","t.wo3_x_d.wo"],
                    "range": ["#999999","#666666","#222222","#777777","#111111","#7a7a7a","#2b2b2b","#a3a3a3","#707070"]}}
              }
            }
          ],
          "spacing": 0
        },
        {
          "hconcat": [
            {
              "width": 42, "height": 434,
              "view": {"fill": "#d1d2d4", "stroke": null},
              "data": {"name": "panels"},
              "transform": [{"filter": "datum.panel === '4-shops'"}],
              "mark": {"type": "text", "angle": 270, "fontSize": 19, "color": "#1a1a1a", "align": "center", "baseline": "middle"},
              "encoding": {"text": {"field": "panel"}}
            },
            {
              "width": 372, "height": 434,
              "data": {"name": "points"},
              "transform": [{"filter": "datum.panel === '4-shops'"}],
              "mark": {"type": "point", "filled": false, "opacity": 1, "strokeWidth": 1.3, "size": 225},
              "encoding": {
                "x": {"field": "pc", "type": "quantitative",
                  "scale": {"domain": [0.462, 0.877], "reverse": true, "nice": false, "zero": false},
                  "axis": {"orient": "bottom", "values": [0.5,0.55,0.6,0.65,0.7,0.75,0.8,0.85],
                    "labelExpr": "abs(datum.value*10 - round(datum.value*10)) < 0.001 ? format(datum.value, '.1f') : ''",
                    "grid": true, "gridColor": "white", "gridOpacity": 1,
                    "gridWidth": {"condition": {"test": "abs(datum.value*10 - round(datum.value*10)) < 0.001", "value": 2.2}, "value": 1.1},
                    "domain": false, "tickColor": "#333333", "tickWidth": 2, "tickSize": 5,
                    "tickOpacity": {"condition": {"test": "abs(datum.value*10 - round(datum.value*10)) < 0.001", "value": 1}, "value": 0},
                    "labelAngle": 270, "labelAlign": "right", "labelBaseline": "middle", "labelFontSize": 20, "labelColor": "#4d4d4d", "labelPadding": 4,
                    "labelOverlap": false, "labelFlush": false,
                    "title": "Pairs completeness (PC)", "titleAngle": 180, "titleBaseline": "bottom", "titleFontSize": 25, "titleFontWeight": "normal", "titleColor": "#000000", "titlePadding": 4}},
                "y": {"field": "rr", "type": "quantitative",
                  "scale": {"domain": [0.97071, 0.99853], "nice": false, "zero": false},
                  "axis": {"orient": "right", "values": [0.975,0.98,0.985,0.99,0.995],
                    "labelExpr": "abs(datum.value*100 - round(datum.value*100)) < 0.001 ? format(datum.value, '.2f') : ''",
                    "grid": true, "gridColor": "white", "gridOpacity": 1,
                    "gridWidth": {"condition": {"test": "abs(datum.value*100 - round(datum.value*100)) < 0.001", "value": 2.2}, "value": 1.1},
                    "domain": false, "tickColor": "#333333", "tickWidth": 2, "tickSize": 5,
                    "tickOpacity": {"condition": {"test": "abs(datum.value*100 - round(datum.value*100)) < 0.001", "value": 1}, "value": 0},
                    "labelAngle": 270, "labelAlign": "center", "labelBaseline": "top", "labelFontSize": 20, "labelColor": "#4d4d4d", "labelPadding": 4,
                    "labelOverlap": false, "labelFlush": false, "title": null}},
                "shape": {"field": "scheme", "type": "nominal", "legend": null,
                  "scale": {"domain": ["t.mw3","t.mw3_x_d.mw","t.mw3_x_d.wo","t.mw_x_d.wo","t.wo4","t.wo4_x_d.wo","t.wo3_x_d.mw3","t.wo3_x_d.mw4","t.wo3_x_d.wo"],
                    "range": ["M0.77,0A0.77,0.77,0,1,1,-0.77,0A0.77,0.77,0,1,1,0.77,0Z","M-0.75,0L0.75,-0.87L0.75,0.87Z","M-1,0L1,0M0,-1L0,1","M-0.72,-0.72L0.72,0.72M-0.72,0.72L0.72,-0.72","M-1,0L0,-1L1,0L0,1Z","M0.75,0L-0.75,-0.87L-0.75,0.87Z","M-0.72,-0.72L0.72,-0.72L0.72,0.72L-0.72,0.72ZM-0.72,-0.72L0.72,0.72M-0.72,0.72L0.72,-0.72","M-0.85,0L0.85,0M0,-0.85L0,0.85M-0.6,-0.6L0.6,0.6M-0.6,0.6L0.6,-0.6","M-1,0L0,-1L1,0L0,1ZM-1,0L1,0M0,-1L0,1"]}},
                "color": {"field": "scheme", "type": "nominal", "legend": null,
                  "scale": {"domain": ["t.mw3","t.mw3_x_d.mw","t.mw3_x_d.wo","t.mw_x_d.wo","t.wo4","t.wo4_x_d.wo","t.wo3_x_d.mw3","t.wo3_x_d.mw4","t.wo3_x_d.wo"],
                    "range": ["#999999","#666666","#222222","#777777","#111111","#7a7a7a","#2b2b2b","#a3a3a3","#707070"]}}
              }
            }
          ],
          "spacing": 0
        }
      ],
      "spacing": 23.5
    },
    {
      "width": 54, "height": 1368,
      "view": {"fill": "white", "stroke": null},
      "data": {"name": "legend"},
      "encoding": {
        "x": {"field": "lrow", "type": "quantitative", "scale": {"domain": [0.5, 2.5], "nice": false, "zero": false}, "axis": null},
        "y": {"field": "slot", "type": "ordinal", "scale": {"type": "point", "reverse": true, "padding": 1.8535}, "axis": null}
      },
      "layer": [
        {"mark": {"type": "point", "shape": "square", "filled": true, "size": 676, "color": "#e5e5e7", "opacity": 1}},
        {"mark": {"type": "point", "filled": false, "opacity": 1, "strokeWidth": 1.3, "size": 225},
          "encoding": {
            "shape": {"field": "scheme", "type": "nominal", "legend": null,
              "scale": {"domain": ["t.mw3","t.mw3_x_d.mw","t.mw3_x_d.wo","t.mw_x_d.wo","t.wo4","t.wo4_x_d.wo","t.wo3_x_d.mw3","t.wo3_x_d.mw4","t.wo3_x_d.wo"],
                "range": ["M0.77,0A0.77,0.77,0,1,1,-0.77,0A0.77,0.77,0,1,1,0.77,0Z","M-0.75,0L0.75,-0.87L0.75,0.87Z","M-1,0L1,0M0,-1L0,1","M-0.72,-0.72L0.72,0.72M-0.72,0.72L0.72,-0.72","M-1,0L0,-1L1,0L0,1Z","M0.75,0L-0.75,-0.87L-0.75,0.87Z","M-0.72,-0.72L0.72,-0.72L0.72,0.72L-0.72,0.72ZM-0.72,-0.72L0.72,0.72M-0.72,0.72L0.72,-0.72","M-0.85,0L0.85,0M0,-0.85L0,0.85M-0.6,-0.6L0.6,0.6M-0.6,0.6L0.6,-0.6","M-1,0L0,-1L1,0L0,1ZM-1,0L1,0M0,-1L0,1"]}},
            "color": {"field": "scheme", "type": "nominal", "legend": null,
              "scale": {"domain": ["t.mw3","t.mw3_x_d.mw","t.mw3_x_d.wo","t.mw_x_d.wo","t.wo4","t.wo4_x_d.wo","t.wo3_x_d.mw3","t.wo3_x_d.mw4","t.wo3_x_d.wo"],
                "range": ["#999999","#666666","#222222","#777777","#111111","#7a7a7a","#2b2b2b","#a3a3a3","#707070"]}}
          }},
        {"mark": {"type": "text", "angle": 270, "align": "left", "baseline": "middle", "dx": 18, "fontSize": 19, "color": "#1a1a1a"},
          "encoding": {"text": {"field": "scheme"}}},
        {"transform": [{"filter": "datum.slot === 1 && datum.lrow === 1"}],
          "mark": {"type": "text", "angle": 270, "align": "right", "baseline": "middle", "dx": -40, "dy": 13, "fontSize": 24, "color": "#000000", "text": "scheme"}}
      ]
    }
  ],
  "spacing": 15
}
